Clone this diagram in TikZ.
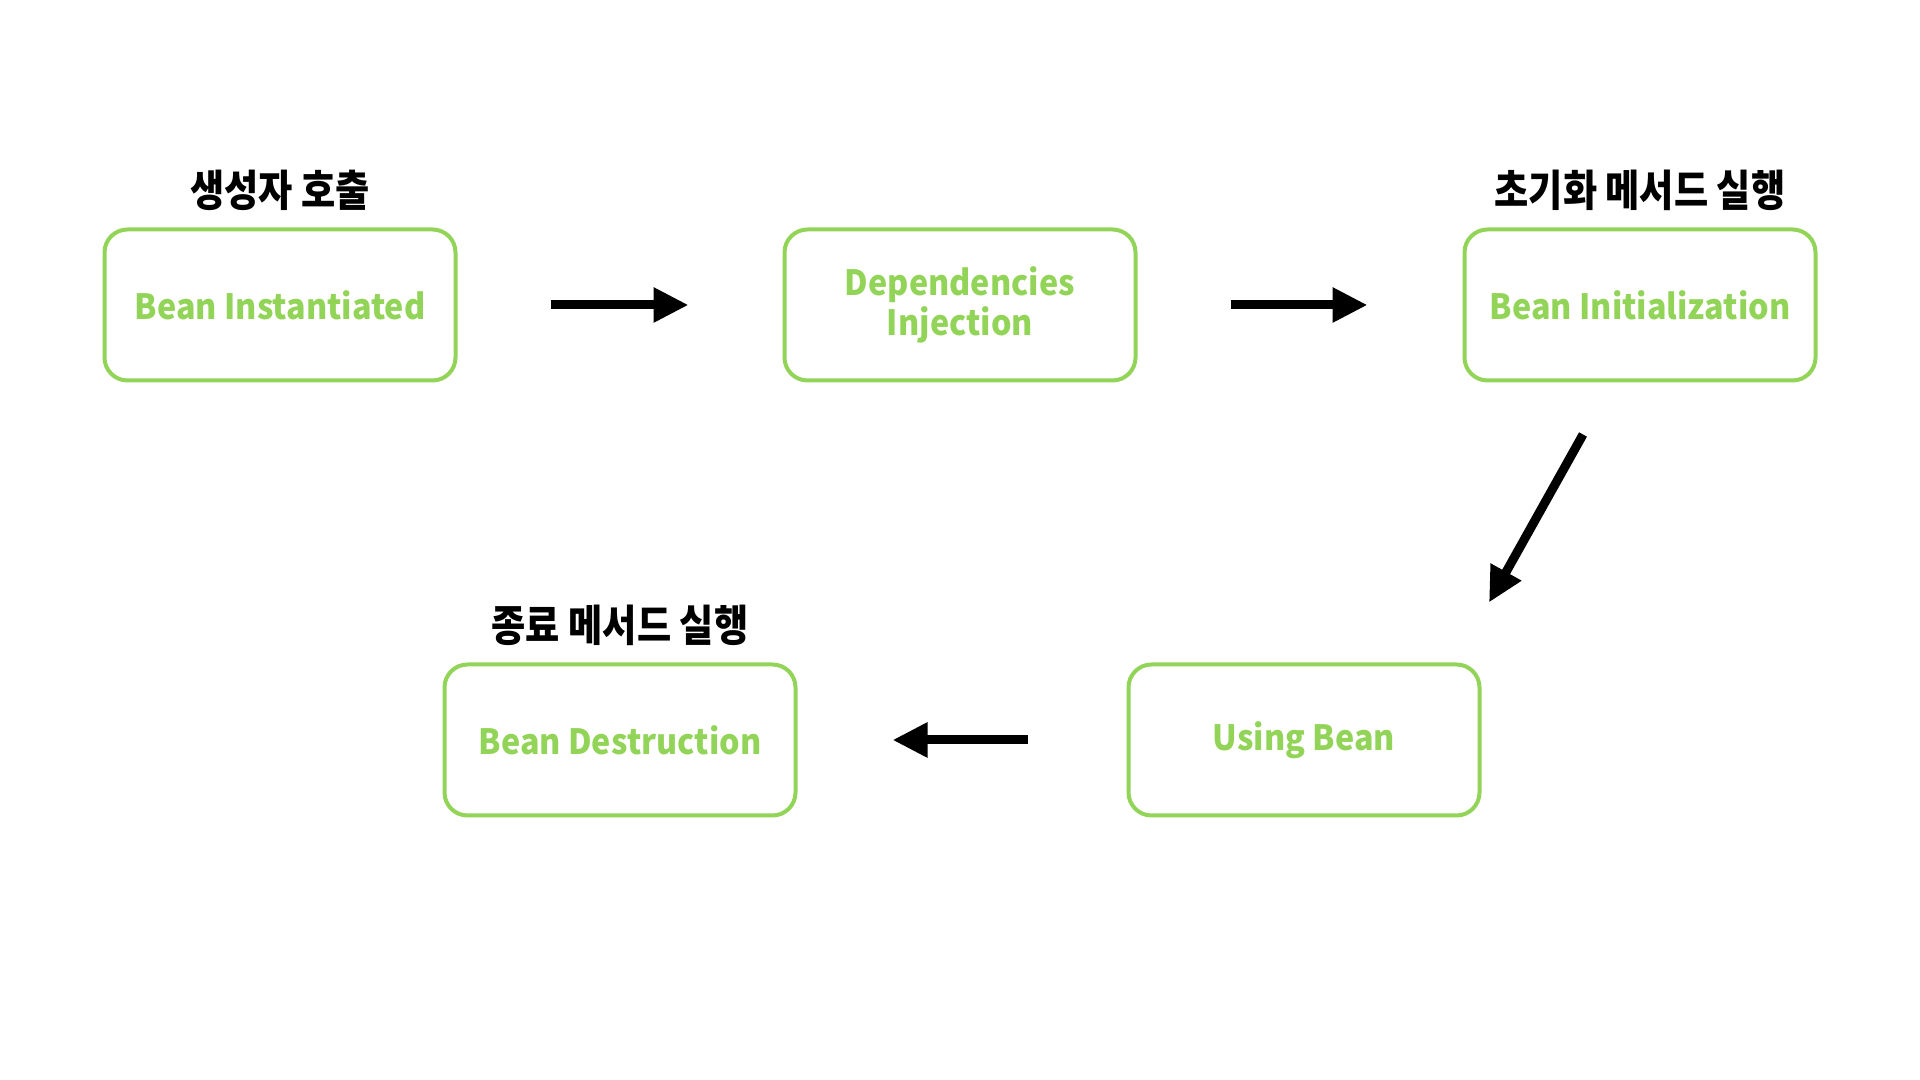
\documentclass[tikz,border=0pt]{standalone}
\usepackage{fontspec}
\setmainfont{Noto Sans CJK KR}[FakeStretch=0.93]
\newfontfamily\korfont{Noto Sans CJK KR}[FakeStretch=0.86]
\usetikzlibrary{arrows.meta,positioning,calc}
\definecolor{beangreen}{RGB}{146,212,88}
\tikzset{
  beanbox/.style={
    rectangle, rounded corners=0.23cm, draw=beangreen, line width=0.04cm,
    minimum width=3.51cm, minimum height=1.51cm, align=center,
    text=beangreen, font=\fontsize{9.9}{11.4}\selectfont\bfseries
  },
  phase/.style={font=\korfont\fontsize{12.3}{13}\selectfont\bfseries,
                inner sep=0pt, text=black},
  arr/.style={-{Triangle[length=0.35cm,width=0.33cm]}, line width=0.09cm}
}
\begin{document}
\begin{tikzpicture}[node distance=3.25cm]
  \useasboundingbox (0,0) rectangle (19.2,10.8);

  % top row
  \node[beanbox] (inst) at (2.8,7.75) {Bean Instantiated};
  \node[beanbox, right=of inst] (inj) {Dependencies\\Injection};
  \node[beanbox, right=of inj] (init) {Bean Initialization};

  % bottom row
  \node[beanbox] (use) at (13.04,3.4) {Using Bean};
  \node[beanbox, left=3.29cm of use] (destroy) {Bean Destruction};

  % phase labels
  \node[phase, above=0.16cm of inst] {생성자 호출};
  \node[phase, above=0.16cm of init] {초기화 메서드 실행};
  \node[phase, above=0.16cm of destroy] {종료 메서드 실행};

  % arrows
  \draw[arr, shorten <=0.93cm, shorten >=0.94cm] (inst) -- (inj);
  \draw[arr, shorten <=0.93cm, shorten >=0.95cm] (inj) -- (init);
  \coordinate (d1) at ($(init.south)+(-0.57,-0.52)$);
  \coordinate (d2) at ($(use.north)+(1.85,0.60)$);
  \draw[arr] (d1) -- (d2);
  \draw[arr, shorten <=0.99cm, shorten >=0.95cm] (use) -- (destroy);
\end{tikzpicture}
\end{document}
